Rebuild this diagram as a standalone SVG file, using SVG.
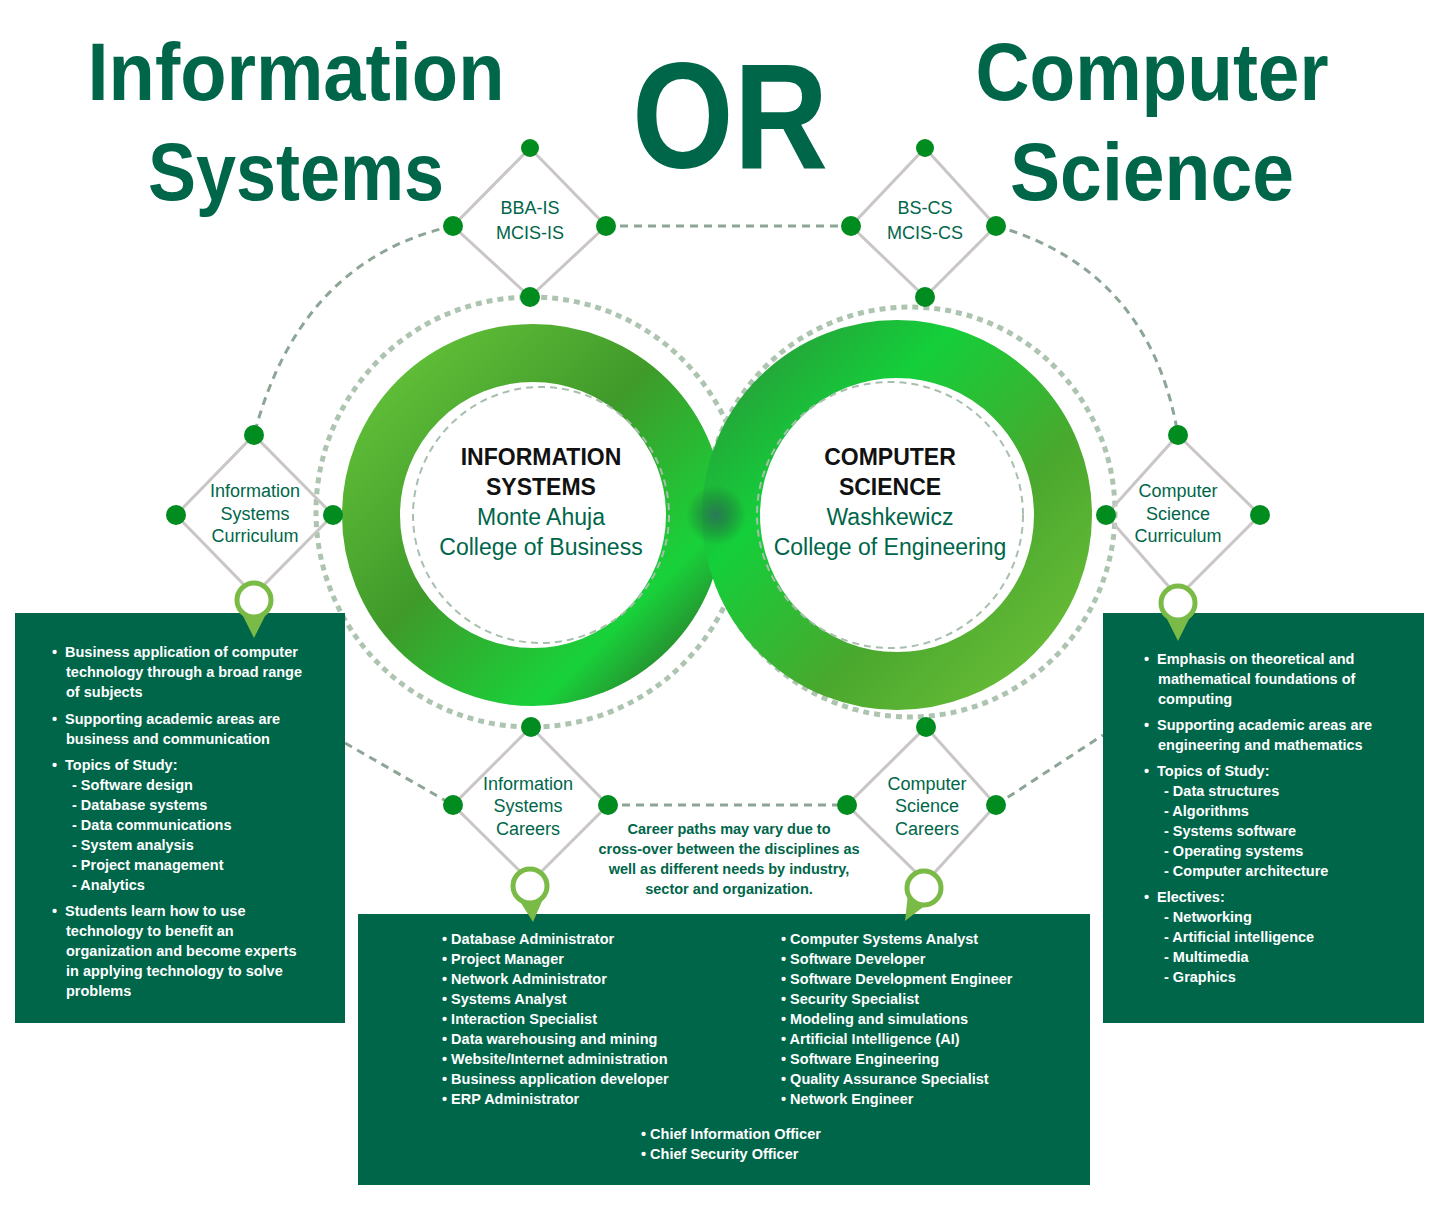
<svg xmlns="http://www.w3.org/2000/svg" width="1438" height="1209" viewBox="0 0 1438 1209">
<style>
.t{font-family:"Liberation Sans",Arial,sans-serif;fill:#00664a;font-weight:bold}
.dl{font-family:"Liberation Sans",Arial,sans-serif;fill:#00664a;font-size:18px;text-anchor:middle}
.w{font-family:"Liberation Sans",Arial,sans-serif;fill:#fff;font-weight:bold;font-size:14.5px}
.m{font-family:"Liberation Sans",Arial,sans-serif;fill:#00664a;font-weight:bold;font-size:14.5px;text-anchor:middle}
.rt{font-family:"Liberation Sans",Arial,sans-serif;font-size:23px;text-anchor:middle}
.dia{fill:none;stroke:#cbc6c6;stroke-width:3}
.dot{fill:#008c1f}
.dash{fill:none;stroke:#8da596;stroke-width:3;stroke-dasharray:8 6}
.ring{fill:none;stroke:#adc4b0;stroke-width:5;stroke-dasharray:6 5}
.box{fill:#00664a}
.pin{fill:#7aba46}
</style>
<defs>
<linearGradient id="gl" x1="0" y1="0" x2="1" y2="1">
<stop offset="0" stop-color="#66c43a"/><stop offset="0.45" stop-color="#3f9a2a"/><stop offset="0.8" stop-color="#18d23a"/><stop offset="1" stop-color="#2e6e2a"/>
</linearGradient>
<linearGradient id="gr" x1="0" y1="0" x2="1" y2="1">
<stop offset="0" stop-color="#2a9a3a"/><stop offset="0.3" stop-color="#14cf3a"/><stop offset="0.65" stop-color="#4aa82e"/><stop offset="1" stop-color="#6cbf38"/>
</linearGradient>
<radialGradient id="gc" cx="0.5" cy="0.5" r="0.5">
<stop offset="0" stop-color="#2a7a5a"/><stop offset="1" stop-color="#1a6a2a" stop-opacity="0"/>
</radialGradient>
</defs>
<rect width="1438" height="1209" fill="#fff"/>
<g id="titles">
<text class="t" x="296" y="100" font-size="82" text-anchor="middle" textLength="417" lengthAdjust="spacingAndGlyphs">Information</text>
<text class="t" x="296" y="200" font-size="82" text-anchor="middle" textLength="296" lengthAdjust="spacingAndGlyphs">Systems</text>
<text class="t" x="730" y="168" font-size="150" text-anchor="middle" textLength="196" lengthAdjust="spacingAndGlyphs">OR</text>
<text class="t" x="1152" y="100" font-size="82" text-anchor="middle" textLength="353" lengthAdjust="spacingAndGlyphs">Computer</text>
<text class="t" x="1152" y="200" font-size="82" text-anchor="middle" textLength="284" lengthAdjust="spacingAndGlyphs">Science</text>
</g>
<g id="connectors">
<circle class="ring" cx="531" cy="512" r="215"/>
<circle class="ring" cx="910" cy="512" r="205"/>
<path class="dash" d="M453 226 Q300 260 254 435"/>
<path class="dash" d="M996 226 Q1150 270 1178 435"/>
<path class="dash" d="M606 226 L851 226"/>
<path class="dash" d="M608 805 L847 805"/>
<path class="dash" d="M345 743 L453 805"/>
<path class="dash" d="M996 805 L1103 735"/>
</g>
<g id="infinity">
<circle cx="533" cy="515" r="162" fill="none" stroke="url(#gl)" stroke-width="58"/>
<circle cx="897" cy="515" r="166" fill="none" stroke="url(#gr)" stroke-width="58"/>
<circle cx="716" cy="515" r="30" fill="url(#gc)"/>
<circle cx="541" cy="515" r="128" fill="none" stroke="#a9bfae" stroke-width="2" stroke-dasharray="7 5"/>
<circle cx="890" cy="515" r="133" fill="none" stroke="#a9bfae" stroke-width="2" stroke-dasharray="7 5"/>
</g>
<g id="node-is">
<text class="rt" x="541" y="465" font-weight="bold" fill="#111">INFORMATION</text>
<text class="rt" x="541" y="495" font-weight="bold" fill="#111">SYSTEMS</text>
<text class="rt" x="541" y="525" fill="#00664a">Monte Ahuja</text>
<text class="rt" x="541" y="555" fill="#00664a">College of Business</text>
</g>
<g id="node-cs">
<text class="rt" x="890" y="465" font-weight="bold" fill="#111">COMPUTER</text>
<text class="rt" x="890" y="495" font-weight="bold" fill="#111">SCIENCE</text>
<text class="rt" x="890" y="525" fill="#00664a">Washkewicz</text>
<text class="rt" x="890" y="555" fill="#00664a">College of Engineering</text>
</g>
<g id="diamond-bba">
<path class="dia" d="M530 148 L606 226 L530 297 L453 226 Z"/>
<text class="dl" x="530" y="214">BBA-IS</text><text class="dl" x="530" y="239">MCIS-IS</text>
<circle class="dot" cx="530" cy="148" r="9"/><circle class="dot" cx="606" cy="226" r="10"/><circle class="dot" cx="530" cy="297" r="10"/><circle class="dot" cx="453" cy="226" r="10"/>
</g>
<g id="diamond-bscs">
<path class="dia" d="M925 148 L996 226 L925 297 L851 226 Z"/>
<text class="dl" x="925" y="214">BS-CS</text><text class="dl" x="925" y="239">MCIS-CS</text>
<circle class="dot" cx="925" cy="148" r="9"/><circle class="dot" cx="996" cy="226" r="10"/><circle class="dot" cx="925" cy="297" r="10"/><circle class="dot" cx="851" cy="226" r="10"/>
</g>
<g id="diamond-iscur">
<path class="dia" d="M254 435 L333 515 L254 595 L176 515 Z"/>
<text class="dl" x="255" y="497">Information</text><text class="dl" x="255" y="520">Systems</text><text class="dl" x="255" y="542">Curriculum</text>
<circle class="dot" cx="254" cy="435" r="10"/><circle class="dot" cx="333" cy="515" r="10"/><circle class="dot" cx="176" cy="515" r="10"/>
</g>
<g id="diamond-cscur">
<path class="dia" d="M1178 435 L1260 515 L1178 597 L1106 515 Z"/>
<text class="dl" x="1178" y="497">Computer</text><text class="dl" x="1178" y="520">Science</text><text class="dl" x="1178" y="542">Curriculum</text>
<circle class="dot" cx="1178" cy="435" r="10"/><circle class="dot" cx="1260" cy="515" r="10"/><circle class="dot" cx="1106" cy="515" r="10"/>
</g>
<g id="diamond-iscar">
<path class="dia" d="M531 727 L608 805 L531 882 L453 805 Z"/>
<text class="dl" x="528" y="790">Information</text><text class="dl" x="528" y="812">Systems</text><text class="dl" x="528" y="835">Careers</text>
<circle class="dot" cx="531" cy="727" r="10"/><circle class="dot" cx="608" cy="805" r="10"/><circle class="dot" cx="453" cy="805" r="10"/>
</g>
<g id="diamond-cscar">
<path class="dia" d="M926 727 L996 805 L926 882 L847 805 Z"/>
<text class="dl" x="927" y="790">Computer</text><text class="dl" x="927" y="812">Science</text><text class="dl" x="927" y="835">Careers</text>
<circle class="dot" cx="926" cy="727" r="10"/><circle class="dot" cx="996" cy="805" r="10"/><circle class="dot" cx="847" cy="805" r="10"/>
</g>
<g id="note">
<text class="m" x="729" y="834">Career paths may vary due to</text>
<text class="m" x="729" y="854">cross-over between the disciplines as</text>
<text class="m" x="729" y="874">well as different needs by industry,</text>
<text class="m" x="729" y="894">sector and organization.</text>
</g>
<g id="box-is">
<rect class="box" x="15" y="613" width="330" height="410"/>
<g class="w">
<text x="52" y="657">•</text><text x="65" y="657">Business application of computer</text>
<text x="66" y="677">technology through a broad range</text>
<text x="66" y="697">of subjects</text>
<text x="52" y="724">•</text><text x="65" y="724">Supporting academic areas are</text>
<text x="66" y="744">business and communication</text>
<text x="52" y="770">•</text><text x="65" y="770">Topics of Study:</text>
<text x="72" y="790">- Software design</text>
<text x="72" y="810">- Database systems</text>
<text x="72" y="830">- Data communications</text>
<text x="72" y="850">- System analysis</text>
<text x="72" y="870">- Project management</text>
<text x="72" y="890">- Analytics</text>
<text x="52" y="916">•</text><text x="65" y="916">Students learn how to use</text>
<text x="66" y="936">technology to benefit an</text>
<text x="66" y="956">organization and become experts</text>
<text x="66" y="976">in applying technology to solve</text>
<text x="66" y="996">problems</text>
</g>
</g>
<g id="box-cs">
<rect class="box" x="1103" y="613" width="321" height="410"/>
<g class="w">
<text x="1144" y="664">•</text><text x="1157" y="664">Emphasis on theoretical and</text>
<text x="1158" y="684">mathematical foundations of</text>
<text x="1158" y="704">computing</text>
<text x="1144" y="730">•</text><text x="1157" y="730">Supporting academic areas are</text>
<text x="1158" y="750">engineering and mathematics</text>
<text x="1144" y="776">•</text><text x="1157" y="776">Topics of Study:</text>
<text x="1164" y="796">- Data structures</text>
<text x="1164" y="816">- Algorithms</text>
<text x="1164" y="836">- Systems software</text>
<text x="1164" y="856">- Operating systems</text>
<text x="1164" y="876">- Computer architecture</text>
<text x="1144" y="902">•</text><text x="1157" y="902">Electives:</text>
<text x="1164" y="922">- Networking</text>
<text x="1164" y="942">- Artificial intelligence</text>
<text x="1164" y="962">- Multimedia</text>
<text x="1164" y="982">- Graphics</text>
</g>
</g>
<g id="box-careers">
<rect class="box" x="358" y="914" width="732" height="271"/>
<g class="w">
<text x="442" y="944">• Database Administrator</text>
<text x="442" y="964">• Project Manager</text>
<text x="442" y="984">• Network Administrator</text>
<text x="442" y="1004">• Systems Analyst</text>
<text x="442" y="1024">• Interaction Specialist</text>
<text x="442" y="1044">• Data warehousing and mining</text>
<text x="442" y="1064">• Website/Internet administration</text>
<text x="442" y="1084">• Business application developer</text>
<text x="442" y="1104">• ERP Administrator</text>
<text x="781" y="944">• Computer Systems Analyst</text>
<text x="781" y="964">• Software Developer</text>
<text x="781" y="984">• Software Development Engineer</text>
<text x="781" y="1004">• Security Specialist</text>
<text x="781" y="1024">• Modeling and simulations</text>
<text x="781" y="1044">• Artificial Intelligence (AI)</text>
<text x="781" y="1064">• Software Engineering</text>
<text x="781" y="1084">• Quality Assurance Specialist</text>
<text x="781" y="1104">• Network Engineer</text>
<text x="641" y="1139">• Chief Information Officer</text>
<text x="641" y="1159">• Chief Security Officer</text>
</g>
</g>
<g id="pins">
<path class="pin" d="M238 606 L254 638 L270 606 Z"/><circle cx="254" cy="600" r="17" fill="#fff" stroke="#7aba46" stroke-width="5"/>
<path class="pin" d="M1162 609 L1178 641 L1194 609 Z"/><circle cx="1178" cy="603" r="17" fill="#fff" stroke="#7aba46" stroke-width="5"/>
<path class="pin" d="M514 892 L533 922 L546 892 Z"/><circle cx="530" cy="886" r="17" fill="#fff" stroke="#7aba46" stroke-width="5"/>
<path class="pin" d="M908 894 L905 921 L940 894 Z"/><circle cx="924" cy="888" r="17" fill="#fff" stroke="#7aba46" stroke-width="5"/>
</g>
</svg>
